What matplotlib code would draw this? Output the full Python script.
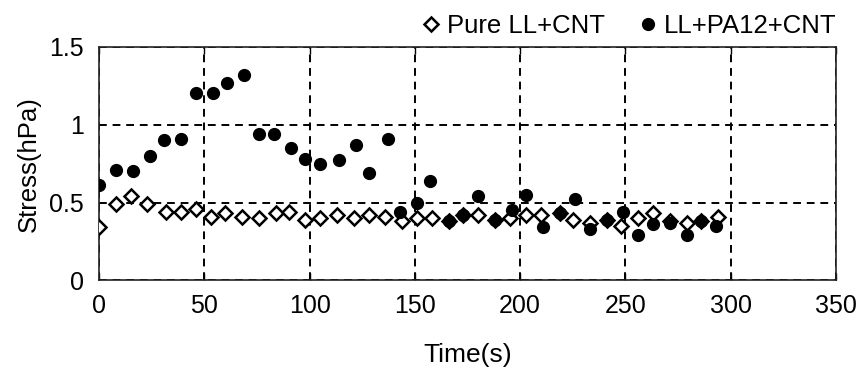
import matplotlib

matplotlib.use("Agg")
import matplotlib.pyplot as plt

# Pure LL+CNT (open diamonds)
t_pure = [0, 8, 15, 23, 32, 39, 46, 53, 60, 68, 76, 84, 90, 98, 105, 113, 121, 128, 136, 144,
          151, 158, 166, 173, 180, 188, 195, 203, 210, 219, 225, 233, 241, 248, 256, 263, 271, 279, 286, 294]
s_pure = [0.34, 0.49, 0.54, 0.49, 0.44, 0.44, 0.46, 0.41, 0.43, 0.41, 0.40, 0.43, 0.44, 0.39, 0.40, 0.42,
          0.40, 0.42, 0.41, 0.38, 0.40, 0.40, 0.38, 0.42, 0.42, 0.39, 0.40, 0.42, 0.42, 0.43, 0.39, 0.37,
          0.39, 0.35, 0.40, 0.43, 0.38, 0.37, 0.38, 0.41]

# LL+PA12+CNT (filled circles)
t_pa12 = [0, 8, 16, 24, 31, 39, 46, 54, 61, 69, 76, 83, 91, 98, 105, 114, 122, 128, 137, 143,
          151, 157, 166, 173, 180, 188, 196, 203, 211, 219, 226, 233, 241, 249, 256, 263, 271, 279, 286, 293]
s_pa12 = [0.61, 0.71, 0.70, 0.80, 0.90, 0.91, 1.20, 1.20, 1.27, 1.32, 0.94, 0.94, 0.85, 0.78, 0.75, 0.77,
          0.87, 0.69, 0.91, 0.44, 0.50, 0.64, 0.38, 0.42, 0.54, 0.39, 0.45, 0.55, 0.34, 0.43, 0.52, 0.33,
          0.39, 0.44, 0.29, 0.36, 0.37, 0.29, 0.38, 0.35]

x_ticks = [0, 50, 100, 150, 200, 250, 300, 350]
y_ticks = [0, 0.5, 1, 1.5]
y_ticklabels = ["0", "0.5", "1", "1.5"]

plt.rcParams["font.family"] = ["Liberation Sans", "DejaVu Sans"]

fig = plt.figure(figsize=(8.61, 3.8), dpi=100)
ax = fig.add_axes([0.115, 0.262, 0.856, 0.615])

ax.plot(t_pure, s_pure, linestyle="none", marker="D", markersize=7.5,
        markerfacecolor="white", markeredgecolor="black", markeredgewidth=1.8,
        label="Pure LL+CNT", zorder=3)
ax.plot(t_pa12, s_pa12, linestyle="none", marker="o", markersize=8.5,
        color="black", label="LL+PA12+CNT", zorder=4)

ax.set_xlim(0, 350)
ax.set_ylim(0, 1.5)
ax.set_xticks(x_ticks)
ax.set_yticks(y_ticks)
ax.set_yticklabels(y_ticklabels)

ax.grid(True, color="black", linestyle=(0, (4, 3)), linewidth=1.4)
ax.set_axisbelow(True)

ax.tick_params(axis="x", direction="in", top=True, length=5, width=1.0,
               labelsize=18, pad=10, colors="black")
ax.tick_params(axis="y", direction="in", length=0, labelsize=18, pad=11)
for sp in ax.spines.values():
    sp.set_linewidth(1.2)
    sp.set_color("#222222")

ax.set_xlabel("Time(s)", fontsize=19, labelpad=18)
ax.set_ylabel("Stress(hPa)", fontsize=18.5, labelpad=6)

fig.legend(loc="upper right", bbox_to_anchor=(0.99, 1.005), ncol=2, frameon=False,
           fontsize=18.5, handlelength=0.5, handletextpad=0.4, columnspacing=1.4,
           borderaxespad=0.2)

fig.savefig("out.png", dpi=100)
